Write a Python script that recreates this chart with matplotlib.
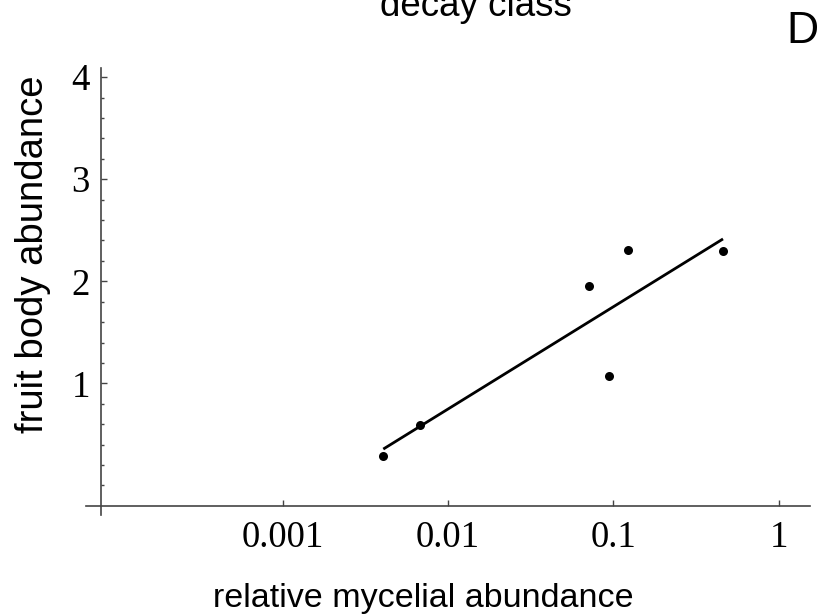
import numpy as np
import matplotlib
matplotlib.use('Agg')
import matplotlib.pyplot as plt
from matplotlib.ticker import FixedLocator, NullLocator

# data
mycelial = [0.00406, 0.00678, 0.0715, 0.0948, 0.122, 0.461]
fruit_body = [0.29, 0.59, 1.95, 1.075, 2.31, 2.30]
fit_x = [0.00406, 0.461]
fit_y = [0.356, 2.415]

x_ticks = [0.001, 0.01, 0.1, 1]
x_ticklabels = ['0.001', '0.01', '0.1', '1']
y_ticks = [1, 2, 3, 4]
y_minor = [0, 0.2, 0.4, 0.6, 0.8, 1.2, 1.4, 1.6, 1.8, 2.2, 2.4, 2.6, 2.8,
           3.2, 3.4, 3.6, 3.8]

W, H = 823, 614
fig = plt.figure(figsize=(W / 100, H / 100), dpi=100)
ax = fig.add_axes([86 / W, 99 / H, 724 / W, 447 / H])

ax.plot(fit_x, fit_y, color='black', lw=2.0, solid_capstyle='butt')
ax.plot(mycelial, fruit_body, 'o', color='black', markersize=6.5, markeredgewidth=0)

ax.set_xscale('log')
ax.set_xlim(10 ** -4.19, 10 ** 0.19)
ax.set_ylim(-0.29, 4.09)

# Mathematica-style crossing axes
for s in ['top', 'right']:
    ax.spines[s].set_visible(False)
ax.spines['left'].set_position(('data', 10 ** -4.1))
ax.spines['bottom'].set_position(('data', -0.203))
for s in ['left', 'bottom']:
    ax.spines[s].set_color('#444444')
    ax.spines[s].set_linewidth(1.2)

serif = {'family': 'Liberation Serif', 'size': 26.5}
ax.xaxis.set_major_locator(FixedLocator(x_ticks))
ax.xaxis.set_minor_locator(NullLocator())
ax.set_xticklabels(x_ticklabels, fontdict=serif)
ax.yaxis.set_major_locator(FixedLocator(y_ticks))
ax.yaxis.set_minor_locator(FixedLocator(y_minor))
ax.set_yticklabels([str(t) for t in y_ticks], fontdict=serif)

ax.tick_params(axis='both', which='major', direction='in', length=4,
               width=1.0, color='#444444')
ax.tick_params(axis='both', which='minor', direction='in', length=2.5,
               width=1.0, color='#444444')
ax.tick_params(axis='x', pad=10)
ax.tick_params(axis='y', pad=8)

sans = 'Liberation Sans'
fig.text(423 / W, 1 - 607 / H, 'relative mycelial abundance', family=sans,
         fontsize=24.5, ha='center', va='baseline')
fig.text(43 / W, 1 - 254.5 / H, 'fruit body abundance', family=sans,
         fontsize=27.5, ha='center', va='baseline', rotation=90,
         rotation_mode='anchor')
fig.text(476 / W, 1 - 15.5 / H, 'decay class', family=sans,
         fontsize=26.5, ha='center', va='baseline')
fig.text(786 / W, 1 - 43.3 / H, 'D', family=sans,
         fontsize=32, ha='left', va='baseline')

fig.savefig('out.png', dpi=100)
